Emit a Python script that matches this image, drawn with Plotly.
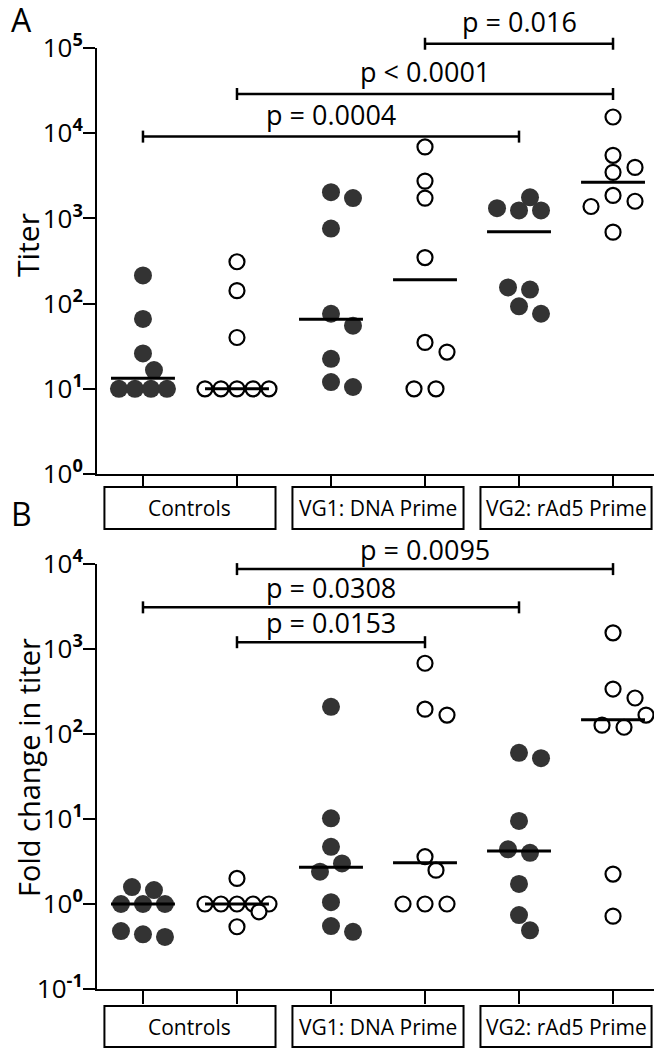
import numpy as np
import plotly.graph_objects as go

# ---------------- data ----------------
group_labels = ["Controls", "VG1: DNA Prime", "VG2: rAd5 Prime"]
column_filled = [True, False, True, False, True, False]

titer_controls_filled = [214, 66, 26, 16.6, 10, 10, 10, 10]
titer_controls_open = [310, 142, 40, 10, 10, 10, 10, 10]
titer_vg1_filled = [2030, 1730, 760, 76, 55, 22.5, 12, 10.5]
titer_vg1_open = [6900, 2740, 1730, 347, 35, 27, 10, 10]
titer_vg2_filled = [1770, 1320, 1240, 1240, 155, 146, 93, 76]
titer_vg2_open = [15500, 5500, 3970, 3470, 1860, 1590, 1380, 690]

fold_controls_filled = [1.58, 1.46, 1.0, 1.0, 1.0, 0.48, 0.44, 0.41]
fold_controls_open = [2.0, 1.0, 1.0, 1.0, 1.0, 1.0, 0.81, 0.54]
fold_vg1_filled = [209, 10.2, 4.7, 3.0, 2.4, 1.05, 0.55, 0.47]
fold_vg1_open = [680, 196, 167, 3.6, 2.5, 1.0, 1.0, 1.0]
fold_vg2_filled = [60, 52, 9.5, 4.4, 4.0, 1.72, 0.74, 0.49]
fold_vg2_open = [1550, 338, 265, 167, 127, 120, 2.25, 0.72]

titer_columns = [titer_controls_filled, titer_controls_open, titer_vg1_filled,
                 titer_vg1_open, titer_vg2_filled, titer_vg2_open]
fold_columns = [fold_controls_filled, fold_controls_open, fold_vg1_filled,
                fold_vg1_open, fold_vg2_filled, fold_vg2_open]

# comparisons: (column from, column to, label)
titer_pvals = [(0, 4, "p = 0.0004"), (1, 5, "p &lt; 0.0001"), (3, 5, "p = 0.016")]
fold_pvals = [(1, 5, "p = 0.0095"), (0, 4, "p = 0.0308"), (1, 3, "p = 0.0153")]

titer_tick_exps = [0, 1, 2, 3, 4, 5]
fold_tick_exps = [-1, 0, 1, 2, 3, 4]

# ---------------- layout constants ----------------
OFF = 8                      # page body margin
W, H = 662 - OFF, 1050 - OFF  # figure size
ML = 97 - OFF
XRANGE = [-0.489, 5.521]


def page_y(py):
    return 1 - (py - OFF) / H


def page_x(px):
    return (px - OFF - ML) / (W - ML)


A_DOMAIN = [page_y(474), page_y(48)]
B_DOMAIN = [page_y(989), page_y(564)]
A_RANGE = [0, 5]
B_RANGE = [-1, 4]
A_BRACKET_LEVELS = [3.96, 4.46, 5.05]
B_BRACKET_LEVELS = [3.94, 3.49, 3.08]
A_TEXT_SHIFT = 2
B_TEXT_SHIFT = -1

FONT = "Open Sans"
DARK = "#333333"

px_per_cat = (W - ML) / (XRANGE[1] - XRANGE[0])


def px_per_dec(domain, rng):
    return H * (domain[1] - domain[0]) / (rng[1] - rng[0])


def cat_to_paper(c):
    return (c - XRANGE[0]) / (XRANGE[1] - XRANGE[0])


def lev_to_paper(lev, domain, rng):
    return domain[0] + (lev - rng[0]) / (rng[1] - rng[0]) * (domain[1] - domain[0])


def swarm(values, ppd):
    """Simple beeswarm: horizontal offsets (category units)."""
    v = np.asarray(values, float)
    y = -np.log10(v) * ppd
    n = len(v)
    order = list(np.argsort(y, kind="stable"))
    rows, cur = [], [order[0]]
    for idx in order[1:]:
        if y[idx] - y[cur[-1]] <= 4:
            cur.append(idx)
        else:
            rows.append(cur)
            cur = [idx]
    rows.append(cur)
    offs = [0.0] * n
    placed = []
    for r in rows:
        if len(r) > 1:
            s = 22 if len(r) <= 3 else 16
            for k, idx in enumerate(r):
                offs[idx] = (k - (len(r) - 1) / 2) * s
                placed.append((offs[idx], y[idx]))
    cands = [0, 11, -11, 22, -22, 33, -33]
    for r in rows:
        if len(r) == 1:
            idx = r[0]
            chosen, bestc, bestd = None, 0, -1
            for c in cands:
                d = min([np.hypot(c - px, y[idx] - py) for px, py in placed], default=1e9)
                if d >= 17:
                    chosen = c
                    break
                if d > bestd:
                    bestd, bestc = d, c
            if chosen is None:
                chosen = bestc
            offs[idx] = chosen
            placed.append((chosen, y[idx]))
    return np.array(offs) / px_per_cat


fig = go.Figure()


def add_panel(columns, xa, ya, domain, rng, pvals, levels, tshift):
    ppd = px_per_dec(domain, rng)
    for i, vals in enumerate(columns):
        off = swarm(vals, ppd)
        filled = column_filled[i]
        fig.add_trace(go.Scatter(
            x=i + off, y=vals, mode="markers", xaxis=xa, yaxis=ya,
            cliponaxis=False, showlegend=False, hoverinfo="skip",
            marker=dict(symbol="circle",
                        size=18 if filled else 15,
                        color=DARK if filled else "white",
                        line=dict(width=0 if filled else 2.2, color="black"))))
    for i, vals in enumerate(columns):
        med = float(np.median(vals))
        fig.add_trace(go.Scatter(
            x=[i - 0.34, i + 0.34], y=[med, med], mode="lines", xaxis=xa, yaxis=ya,
            cliponaxis=False, showlegend=False, hoverinfo="skip",
            line=dict(color="black", width=3)))
    d = 6 / H
    for (c0, c1, label), lev in zip(pvals, levels):
        yp = lev_to_paper(lev, domain, rng)
        x0, x1 = cat_to_paper(c0), cat_to_paper(c1)
        line = dict(color="black", width=2.5)
        fig.add_shape(type="line", xref="paper", yref="paper", x0=x0, x1=x1, y0=yp, y1=yp, line=line)
        fig.add_shape(type="line", xref="paper", yref="paper", x0=x0, x1=x0, y0=yp - d, y1=yp + d, line=line)
        fig.add_shape(type="line", xref="paper", yref="paper", x0=x1, x1=x1, y0=yp - d, y1=yp + d, line=line)
        fig.add_annotation(
            x=(x0 + x1) / 2, y=yp, xref="paper", yref="paper", text=label,
            showarrow=False, xanchor="center", yanchor="bottom",
            yshift=tshift, font=dict(family=FONT, size=27, color="black"))


add_panel(titer_columns, "x", "y", A_DOMAIN, A_RANGE, titer_pvals, A_BRACKET_LEVELS, A_TEXT_SHIFT)
add_panel(fold_columns, "x2", "y2", B_DOMAIN, B_RANGE, fold_pvals, B_BRACKET_LEVELS, B_TEXT_SHIFT)

xax = dict(range=XRANGE, showgrid=False, zeroline=False, showline=True,
           linecolor="black", linewidth=2, ticks="outside", ticklen=13,
           tickwidth=2, tickcolor="black", tickvals=list(range(6)),
           showticklabels=False, automargin=False, fixedrange=True)


def yax(domain, rng, exps, anchor):
    return dict(type="log", domain=domain, range=rng, anchor=anchor,
                showgrid=False, zeroline=False, showline=True,
                linecolor="black", linewidth=2, ticks="outside", ticklen=12,
                tickwidth=2, tickcolor="black",
                tickvals=[10.0 ** e for e in exps],
                ticktext=["10<sup><b>%d</b></sup>" % e for e in exps],
                tickfont=dict(family=FONT, size=26, color="black"),
                ticklabelstandoff=-5,
                automargin=False, fixedrange=True)


fig.update_layout(
    width=W, height=H, margin=dict(l=ML, r=0, t=0, b=0),
    paper_bgcolor="white", plot_bgcolor="white",
    xaxis=dict(xax, anchor="y"),
    xaxis2=dict(xax, anchor="y2"),
    yaxis=yax(A_DOMAIN, A_RANGE, titer_tick_exps, "x"),
    yaxis2=yax(B_DOMAIN, B_RANGE, fold_tick_exps, "x2"),
    showlegend=False,
)

# group label boxes
box_rows = [(page_y(529), page_y(487)), (page_y(1047), page_y(1006))]
for (y0, y1) in box_rows:
    for g, lab in enumerate(group_labels):
        cx = 2 * g + 0.5
        fig.add_shape(type="rect", xref="paper", yref="paper",
                      x0=cat_to_paper(cx - 0.91), x1=cat_to_paper(cx + 0.91),
                      y0=y0, y1=y1, line=dict(color="black", width=2), fillcolor="white")
        fig.add_annotation(x=cat_to_paper(cx), y=(y0 + y1) / 2, xref="paper", yref="paper",
                           text=lab, showarrow=False, xanchor="center", yanchor="middle",
                           font=dict(family=FONT, size=21, color="black"))

# axis titles
fig.add_annotation(x=page_x(28), y=page_y(245), xref="paper", yref="paper",
                   text="Titer", textangle=-90, showarrow=False,
                   xanchor="center", yanchor="middle",
                   font=dict(family=FONT, size=30, color="black"))
fig.add_annotation(x=page_x(28), y=page_y(768), xref="paper", yref="paper",
                   text="Fold change in titer", textangle=-90, showarrow=False,
                   xanchor="center", yanchor="middle",
                   font=dict(family=FONT, size=29, color="black"))

# panel letters
fig.add_annotation(x=page_x(9), y=page_y(20), xref="paper", yref="paper",
                   text="A", showarrow=False, xanchor="left", yanchor="middle",
                   font=dict(family=FONT, size=32, color="black"))
fig.add_annotation(x=page_x(9), y=page_y(514), xref="paper", yref="paper",
                   text="B", showarrow=False, xanchor="left", yanchor="middle",
                   font=dict(family=FONT, size=32, color="black"))

fig.write_html("out.html")
